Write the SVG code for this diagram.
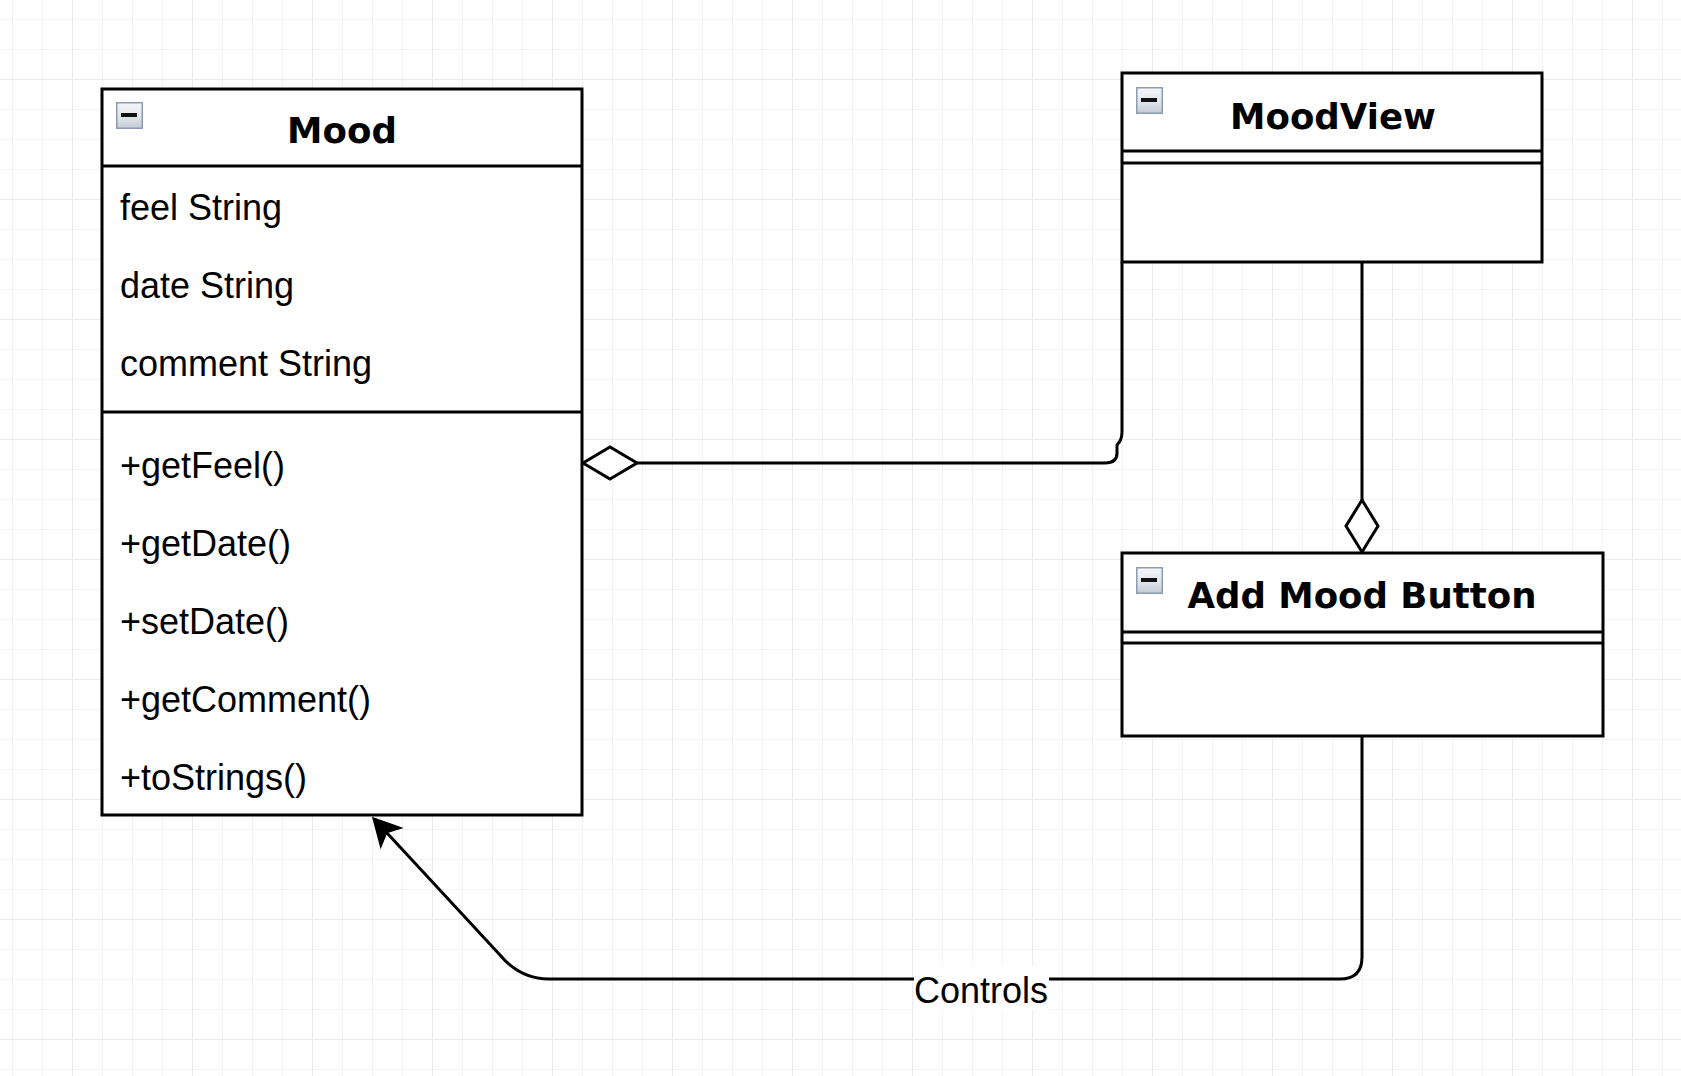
<svg xmlns="http://www.w3.org/2000/svg" width="1681" height="1076" viewBox="0 0 1681 1076">
<defs>
<pattern id="gridMinor" x="12" y="19" width="30" height="30" patternUnits="userSpaceOnUse">
<path d="M0.5 0 V30 M0 0.5 H30" fill="none" stroke="#f3f3f3" stroke-width="1"/>
</pattern>
<pattern id="gridMajor" x="72" y="79" width="120" height="120" patternUnits="userSpaceOnUse">
<path d="M0.5 0 V120 M0 0.5 H120" fill="none" stroke="#eaeaea" stroke-width="1"/>
</pattern>
<linearGradient id="iconFill" x1="0" y1="0" x2="0" y2="1">
<stop offset="0" stop-color="#f4f6f9"/>
<stop offset="0.5" stop-color="#e3e8ee"/>
<stop offset="1" stop-color="#c3ccd6"/>
</linearGradient>
<g id="collapseIcon">
<rect x="0.75" y="0.75" width="25.5" height="25.5" fill="url(#iconFill)" stroke="#8d9bb0" stroke-width="1.5"/>
<rect x="5" y="11" width="16" height="4" fill="#111"/>
</g>
<marker id="arrow" markerUnits="userSpaceOnUse" markerWidth="40" markerHeight="40" refX="0" refY="0" viewBox="-10 -20 40 40" orient="auto" overflow="visible">
<path d="M20 0 L-6.5 -14 L0 0 L-6.5 14 Z" fill="#000" stroke="#000" stroke-width="1.5" stroke-linejoin="miter"/>
</marker>
</defs>
<style>
.box{fill:#fff;stroke:#000;stroke-width:3}
.sep{stroke:#000;stroke-width:3;fill:none}
.title{font-family:"DejaVu Sans",Verdana,sans-serif;font-weight:bold;font-size:35.6px;fill:#000;text-anchor:middle}
.item{font-family:"Liberation Sans",Arial,Helvetica,sans-serif;font-size:36px;fill:#000}
.edge{fill:none;stroke:#000;stroke-width:3;stroke-linejoin:round}
.diamond{fill:#fff;stroke:#000;stroke-width:3;stroke-linejoin:miter}
.label{font-family:"Liberation Sans",Arial,Helvetica,sans-serif;font-size:36px;fill:#000;text-anchor:middle}
</style>
<rect x="0" y="0" width="1681" height="1076" fill="#fff"/>
<rect x="0" y="0" width="1681" height="1076" fill="url(#gridMinor)"/>
<rect x="0" y="0" width="1681" height="1076" fill="url(#gridMajor)"/>

<g id="connectors">
<g id="edge-moodview-mood">
<path class="edge" d="M1122 262 L1122 432 Q1122 440 1117 445 L1117 453 Q1117 463 1105 463 L637 463"/>
<polygon class="diamond" points="583,463 610,447 637,463 610,479"/>
</g>
<g id="edge-moodview-button">
<path class="edge" d="M1362 262 L1362 500"/>
<polygon class="diamond" points="1362,500 1378,526 1362,552 1346,526"/>
</g>
<g id="edge-controls">
<path class="edge" d="M1362 736 L1362 957 Q1362 979 1340 979 L549 979 Q520 979 500 955 L386.6 832.6" marker-end="url(#arrow)"/>
<rect x="914" y="966" width="135" height="44" fill="#fff"/>
<text class="label" x="981" y="1003">Controls</text>
</g>
</g>

<g id="node-mood">
<rect class="box" x="102" y="89" width="480" height="726"/>
<line class="sep" x1="102" y1="166" x2="582" y2="166"/>
<line class="sep" x1="102" y1="412" x2="582" y2="412"/>
<use href="#collapseIcon" x="116" y="102"/>
<text class="title" x="342" y="143">Mood</text>
<text class="item" x="120" y="220">feel String</text>
<text class="item" x="120" y="298">date String</text>
<text class="item" x="120" y="376">comment String</text>
<text class="item" x="120" y="478">+getFeel()</text>
<text class="item" x="120" y="556">+getDate()</text>
<text class="item" x="120" y="634">+setDate()</text>
<text class="item" x="120" y="712">+getComment()</text>
<text class="item" x="120" y="790">+toStrings()</text>
</g>

<g id="node-moodview">
<rect class="box" x="1122" y="73" width="420" height="189"/>
<line class="sep" x1="1122" y1="151" x2="1542" y2="151"/>
<line class="sep" x1="1122" y1="163" x2="1542" y2="163"/>
<use href="#collapseIcon" x="1136" y="87"/>
<text class="title" x="1333" y="129">MoodView</text>
</g>

<g id="node-addmoodbutton">
<rect class="box" x="1122" y="553" width="481" height="183"/>
<line class="sep" x1="1122" y1="632" x2="1603" y2="632"/>
<line class="sep" x1="1122" y1="643" x2="1603" y2="643"/>
<use href="#collapseIcon" x="1136" y="567"/>
<text class="title" x="1362" y="608">Add Mood Button</text>
</g>
</svg>
